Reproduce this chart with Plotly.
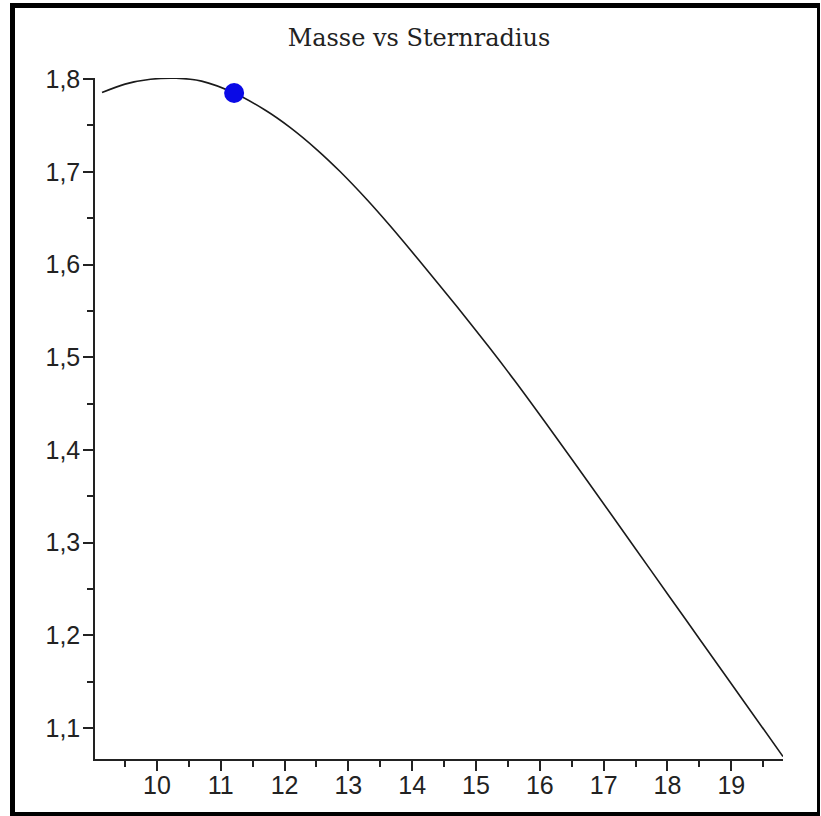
import plotly.graph_objects as go

# Stellar mass vs. radius curve
radius = [9.14, 9.5, 9.9, 10.3, 10.7, 11.21, 11.7, 12.08, 12.5, 12.87,
          13.3, 13.65, 14.1, 14.7, 15.2, 15.61, 16.2, 16.79, 17.46, 18.04,
          18.51, 19.2, 19.81]
mass = [1.7855, 1.7946, 1.7998, 1.8010, 1.7978, 1.7850, 1.7664, 1.7482, 1.7243, 1.7003,
        1.6693, 1.6420, 1.6051, 1.5547, 1.5112, 1.4743, 1.4188, 1.3622, 1.2972, 1.2409,
        1.1953, 1.1284, 1.0692]

# highlighted star
point_radius = [11.21]
point_mass = [1.785]

title_text = "Masse vs Sternradius"

W, H = 821, 816
ML, MR, MT, MB = 95, 38, 78, 57
PW, PH = W - ML - MR, H - MT - MB


def px_x(px):
    return (px - ML) / PW


def px_y(py):
    return 1 - (py - MT) / PH


fig = go.Figure()
fig.add_trace(go.Scatter(x=radius, y=mass, mode="lines", line_shape="spline",
                         line=dict(color="#1a1a1a", width=1.6, smoothing=0.8),
                         hoverinfo="x+y", showlegend=False))
fig.add_trace(go.Scatter(x=point_radius, y=point_mass, mode="markers",
                         marker=dict(color="#0a0ae6", size=20),
                         showlegend=False))

tick_font = dict(family="Liberation Sans, Arial, sans-serif", size=25, color="#222")

fig.update_xaxes(range=[9.03, 19.81], tick0=10, dtick=1, ticks="outside",
                 ticklen=10, tickwidth=1.5, tickcolor="#222",
                 minor=dict(dtick=0.5, tick0=9.5, ticks="outside", ticklen=6,
                            tickwidth=1.5, tickcolor="#222"),
                 showline=True, linecolor="#222", linewidth=1.5,
                 showgrid=False, zeroline=False, tickfont=tick_font,
                 ticklabelstandoff=-7)
fig.update_yaxes(range=[1.0666, 1.8012], tick0=1.1, dtick=0.1, tickformat=".1f",
                 ticks="outside", ticklen=10, tickwidth=1.5, tickcolor="#222",
                 minor=dict(dtick=0.05, ticks="outside", ticklen=6,
                            tickwidth=1.5, tickcolor="#222"),
                 showline=True, linecolor="#222", linewidth=1.5,
                 showgrid=False, zeroline=False, tickfont=tick_font,
                 ticklabelstandoff=-2)

# outer frame: heavier on top/left, lighter on right/bottom
frame = [
    (10, 3, 820, 8),     # top
    (10, 3, 15, 816),    # left
    (817, 3, 820, 816),  # right
    (10, 812, 820, 816), # bottom
]
for x0, y0, x1, y1 in frame:
    fig.add_shape(type="rect", xref="paper", yref="paper",
                  x0=px_x(x0), x1=px_x(x1), y0=px_y(y1), y1=px_y(y0),
                  fillcolor="black", line=dict(width=0), layer="above")

fig.update_layout(
    width=W, height=H,
    margin=dict(l=ML, r=MR, t=MT, b=MB),
    paper_bgcolor="white", plot_bgcolor="white",
    separators=",.",
    title=dict(text=title_text, x=419 / W, xanchor="center",
               y=1 - 38 / H, yanchor="middle",
               font=dict(family="DejaVu Serif, serif", size=24, color="#222")),
)

fig.write_html("out.html")
